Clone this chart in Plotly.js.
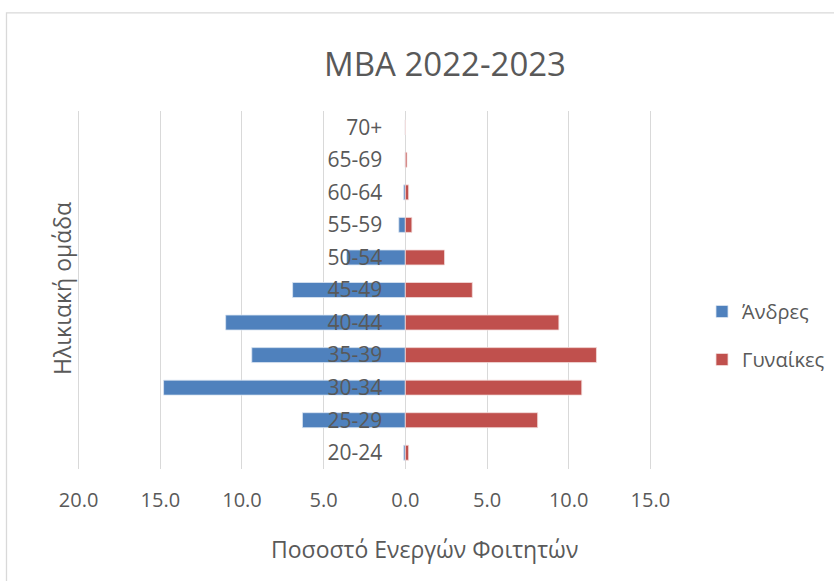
<!DOCTYPE html>
<html>
<head>
<meta charset="utf-8">
<script src="https://cdn.plot.ly/plotly-3.0.1.min.js"></script>
<style>
  html, body { margin: 0; padding: 0; background: #ffffff; }
  #chart { width: 834px; height: 581px; }
</style>
</head>
<body>
<div id="chart"></div>
<script>
// ---- data ----
const ageGroups = ['20-24','25-29','30-34','35-39','40-44','45-49','50-54','55-59','60-64','65-69','70+'];
const menPct    = [0.1, 6.3, 14.8, 9.4, 11.0, 6.9, 3.6, 0.4, 0.1, 0.0, 0.0];
const womenPct  = [0.2, 8.1, 10.8, 11.7, 9.4, 4.1, 2.4, 0.4, 0.2, 0.1, 0.0];
const xTickVals = [-20, -15, -10, -5, 0, 5, 10, 15];
const xTickText = ['20.0', '15.0', '10.0', '5.0', '0.0', '5.0', '10.0', '15.0'];
const seriesNames = ['Άνδρες', 'Γυναίκες'];
const chartTitle = 'MBA 2022-2023';
const xTitle = 'Ποσοστό Ενεργών Φοιτητών';
const yTitle = 'Ηλικιακή ομάδα';

const FONT = '"Open Sans", "Noto Sans", sans-serif';
const GREY = '#595959';

const traces = [
  {
    type: 'bar', orientation: 'h', name: seriesNames[0], legendgroup: 'm',
    y: ageGroups, x: menPct.map(v => -v), customdata: menPct,
    hovertemplate: '%{y}: %{customdata:.1f}<extra>' + seriesNames[0] + '</extra>',
    marker: { color: '#4F81BD', line: { color: '#dbe5f1', width: 0.8 } }
  },
  {
    type: 'bar', orientation: 'h', name: seriesNames[1], legendgroup: 'w',
    y: ageGroups, x: womenPct,
    hovertemplate: '%{y}: %{x:.1f}<extra>' + seriesNames[1] + '</extra>',
    marker: { color: '#C0504D', line: { color: '#f2dcdb', width: 0.8 } }
  }
];

const L = 77, R = 652, T = 110.7, B = 469.3, W = 834, H = 581;
const XMIN = -20.1, XMAX = 15.1;
const pxX = px => (px - L) / (R - L);
const pxY = py => (B - py) / (B - T);

const layout = {
  width: W, height: H,
  margin: { l: L, r: W - R, t: T, b: H - B, pad: 0 },
  paper_bgcolor: '#ffffff', plot_bgcolor: 'rgba(0,0,0,0)',
  font: { family: FONT, color: GREY },
  barmode: 'overlay', bargap: 0.54,
  showlegend: true,
  title: {
    text: chartTitle, xref: 'container', yref: 'container',
    x: 445 / W, xanchor: 'center', y: 1 - 64 / H, yanchor: 'middle',
    font: { family: FONT, size: 33, color: GREY }
  },
  xaxis: {
    range: [XMIN, XMAX], tickvals: xTickVals, ticktext: xTickText,
    showgrid: true, gridcolor: '#D9D9D9', gridwidth: 1.3,
    zeroline: false, showline: false, ticks: '',
    ticklabelstandoff: 17,
    tickfont: { family: FONT, size: 20, color: GREY },
    fixedrange: true
  },
  yaxis: {
    type: 'category', categoryorder: 'array', categoryarray: ageGroups,
    range: [-0.5, 10.5],
    anchor: 'free', position: (0 - XMIN) / (XMAX - XMIN),
    showgrid: false, zeroline: false, showline: false, ticks: '',
    ticklabelstandoff: 23,
    tickfont: { family: FONT, size: 21, color: GREY },
    fixedrange: true
  },
  legend: {
    xref: 'container', yref: 'container',
    x: 702 / W, xanchor: 'left', y: 1 - 292 / H, yanchor: 'top',
    traceorder: 'grouped', tracegroupgap: 19,
    font: { family: FONT, size: 20, color: GREY },
    itemwidth: 30, bgcolor: 'rgba(0,0,0,0)'
  },
  annotations: [
    {
      text: xTitle, xref: 'paper', yref: 'paper',
      x: pxX(424), y: pxY(549), xanchor: 'center', yanchor: 'middle',
      showarrow: false, font: { family: FONT, size: 23, color: GREY }
    },
    {
      text: yTitle, xref: 'paper', yref: 'paper',
      x: pxX(62), y: pxY(289), xanchor: 'center', yanchor: 'middle',
      textangle: -90,
      showarrow: false, font: { family: FONT, size: 23, color: GREY }
    }
  ],
  shapes: [
    {
      type: 'rect', xref: 'paper', yref: 'paper', layer: 'below',
      x0: pxX(6.5), x1: pxX(900), y0: pxY(700), y1: pxY(12.5),
      line: { color: '#D9D9D9', width: 1.3 }, fillcolor: 'rgba(0,0,0,0)'
    }
  ]
};

Plotly.newPlot('chart', traces, layout, { displayModeBar: false });
</script>
</body>
</html>
